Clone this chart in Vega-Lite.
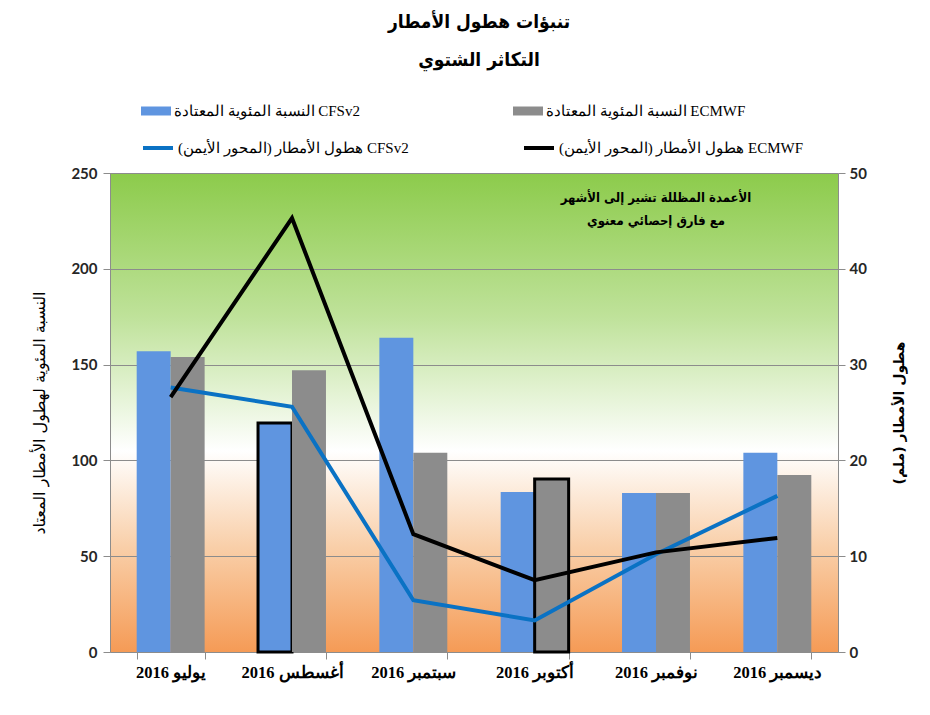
{
  "$schema": "https://vega.github.io/schema/vega-lite/v6.json",
  "width": 728,
  "height": 479,
  "autosize": {"type": "none"},
  "padding": {"left": 110, "top": 173, "right": 92, "bottom": 63},
  "background": "white",
  "title": {
    "text": ["تنبؤات هطول الأمطار", "التكاثر الشتوي"],
    "frame": "group",
    "anchor": "middle",
    "offset": 26,
    "dx": 5,
    "font": "DejaVu Sans Condensed",
    "fontSize": 19,
    "fontWeight": "bold",
    "lineHeight": 38,
    "color": "black"
  },
  "data": {
    "values": [
      {"month": "يوليو 2016", "model": "CFSv2", "pct": 157, "rain": 27.6, "sig": false, "barSeries": "النسبة المئوية المعتادة CFSv2", "lineSeries": "هطول الأمطار (المحور الأيمن)‏ CFSv2"},
      {"month": "أغسطس 2016", "model": "CFSv2", "pct": 119.5, "rain": 25.6, "sig": true, "barSeries": "النسبة المئوية المعتادة CFSv2", "lineSeries": "هطول الأمطار (المحور الأيمن)‏ CFSv2"},
      {"month": "سبتمبر 2016", "model": "CFSv2", "pct": 164, "rain": 5.4, "sig": false, "barSeries": "النسبة المئوية المعتادة CFSv2", "lineSeries": "هطول الأمطار (المحور الأيمن)‏ CFSv2"},
      {"month": "أكتوبر 2016", "model": "CFSv2", "pct": 83.5, "rain": 3.3, "sig": false, "barSeries": "النسبة المئوية المعتادة CFSv2", "lineSeries": "هطول الأمطار (المحور الأيمن)‏ CFSv2"},
      {"month": "نوفمبر 2016", "model": "CFSv2", "pct": 83, "rain": 10.2, "sig": false, "barSeries": "النسبة المئوية المعتادة CFSv2", "lineSeries": "هطول الأمطار (المحور الأيمن)‏ CFSv2"},
      {"month": "ديسمبر 2016", "model": "CFSv2", "pct": 104, "rain": 16.3, "sig": false, "barSeries": "النسبة المئوية المعتادة CFSv2", "lineSeries": "هطول الأمطار (المحور الأيمن)‏ CFSv2"},
      {"month": "يوليو 2016", "model": "ECMWF", "pct": 154, "rain": 26.6, "sig": false, "barSeries": "النسبة المئوية المعتادة ECMWF", "lineSeries": "هطول الأمطار (المحور الأيمن)‏ ECMWF"},
      {"month": "أغسطس 2016", "model": "ECMWF", "pct": 147, "rain": 45.3, "sig": false, "barSeries": "النسبة المئوية المعتادة ECMWF", "lineSeries": "هطول الأمطار (المحور الأيمن)‏ ECMWF"},
      {"month": "سبتمبر 2016", "model": "ECMWF", "pct": 104, "rain": 12.3, "sig": false, "barSeries": "النسبة المئوية المعتادة ECMWF", "lineSeries": "هطول الأمطار (المحور الأيمن)‏ ECMWF"},
      {"month": "أكتوبر 2016", "model": "ECMWF", "pct": 90.3, "rain": 7.5, "sig": true, "barSeries": "النسبة المئوية المعتادة ECMWF", "lineSeries": "هطول الأمطار (المحور الأيمن)‏ ECMWF"},
      {"month": "نوفمبر 2016", "model": "ECMWF", "pct": 83, "rain": 10.4, "sig": false, "barSeries": "النسبة المئوية المعتادة ECMWF", "lineSeries": "هطول الأمطار (المحور الأيمن)‏ ECMWF"},
      {"month": "ديسمبر 2016", "model": "ECMWF", "pct": 92.4, "rain": 11.9, "sig": false, "barSeries": "النسبة المئوية المعتادة ECMWF", "lineSeries": "هطول الأمطار (المحور الأيمن)‏ ECMWF"}
    ]
  },
  "layer": [
    {
      "layer": [
        {
          "mark": {"type": "bar"},
          "encoding": {
            "x": {
              "field": "month",
              "type": "nominal",
              "sort": ["يوليو 2016", "أغسطس 2016", "سبتمبر 2016", "أكتوبر 2016", "نوفمبر 2016", "ديسمبر 2016"],
              "scale": {"paddingInner": 0.44, "paddingOuter": 0.22},
              "title": null,
              "axis": {
                "labelAngle": 0,
                "tickBand": "extent",
                "labelFont": "Liberation Serif",
                "labelFontSize": 16.5,
                "labelFontWeight": "bold",
                "labelColor": "black",
                "labelPadding": 5,
                "labelDx": -6,
                "domainColor": "#8c8c8c",
                "tickColor": "#8c8c8c",
                "tickSize": 7,
                "grid": false
              }
            },
            "xOffset": {"field": "model", "type": "nominal", "sort": ["CFSv2", "ECMWF"]},
            "y": {
              "field": "pct",
              "type": "quantitative",
              "scale": {"domain": [0, 250], "nice": false},
              "axis": {
                "values": [0, 50, 100, 150, 200, 250],
                "grid": true,
                "gridColor": "#8c8c8c",
                "gridWidth": 1,
                "domainColor": "#8c8c8c",
                "tickColor": "#8c8c8c",
                "tickSize": 7,
                "labelFont": "Lato",
                "labelFontSize": 15,
                "labelFontWeight": "bold",
                "labelColor": "#262626",
                "labelPadding": 6,
                "title": "النسبة المئوية لهطول الأمطار المعتاد",
                "titleFont": "DejaVu Sans",
                "titleFontSize": 16,
                "titleFontWeight": "normal",
                "titleColor": "black",
                "titlePadding": 23
              }
            },
            "fill": {
              "field": "barSeries",
              "type": "nominal",
              "scale": {
                "domain": ["النسبة المئوية المعتادة CFSv2", "النسبة المئوية المعتادة ECMWF"],
                "range": ["#5f95e0", "#8c8c8c"]
              },
              "legend": {
                "orient": "none",
                "legendX": 31,
                "legendY": -77,
                "direction": "horizontal",
                "columns": 2,
                "title": null,
                "labelFont": "Liberation Serif",
                "labelFontSize": 15,
                "labelColor": "black",
                "labelLimit": 500,
                "labelOffset": 3,
                "symbolType": "M-1,-0.3H1V0.3H-1Z",
                "symbolSize": 900,
                "symbolStrokeWidth": 0,
                "symbolOpacity": 1,
                "columnPadding": 153
              }
            },
            "stroke": {"condition": {"test": "datum.sig", "value": "black"}, "value": null},
            "strokeWidth": {"condition": {"test": "datum.sig", "value": 3}, "value": 0}
          }
        },
        {
          "data": {"values": [{"note": 1}]},
          "mark": {
            "type": "text",
            "text": ["الأعمدة المظللة تشير إلى الأشهر", "مع فارق إحصائي معنوي"],
            "font": "DejaVu Sans Condensed",
            "fontSize": 13,
            "fontWeight": "bold",
            "lineHeight": 23,
            "color": "black",
            "align": "center",
            "baseline": "middle",
            "dx": 0
          },
          "encoding": {
            "x": {"datum": "نوفمبر 2016"},
            "y": {"datum": 237}
          }
        }
      ]
    },
    {
      "mark": {"type": "line", "strokeWidth": 4},
      "encoding": {
        "x": {
          "field": "month",
          "type": "nominal",
          "sort": ["يوليو 2016", "أغسطس 2016", "سبتمبر 2016", "أكتوبر 2016", "نوفمبر 2016", "ديسمبر 2016"]
        },
        "y": {
          "field": "rain",
          "type": "quantitative",
          "scale": {"domain": [0, 50], "nice": false},
          "axis": {
            "orient": "right",
            "values": [0, 10, 20, 30, 40, 50],
            "grid": false,
            "domainColor": "#8c8c8c",
            "tickColor": "#8c8c8c",
            "tickSize": 7,
            "labelFont": "Lato",
            "labelFontSize": 15,
            "labelFontWeight": "bold",
            "labelColor": "#262626",
            "labelPadding": 4,
            "title": "هطول الأمطار (ملم)",
            "titleAngle": -90,
            "titleFont": "DejaVu Sans",
            "titleFontSize": 14,
            "titleFontWeight": "bold",
            "titleColor": "black",
            "titlePadding": 40
          }
        },
        "stroke": {
          "field": "lineSeries",
          "type": "nominal",
          "scale": {
            "domain": ["هطول الأمطار (المحور الأيمن)‏ CFSv2", "هطول الأمطار (المحور الأيمن)‏ ECMWF"],
            "range": ["#0a72c4", "#000000"]
          },
          "legend": {
            "orient": "none",
            "legendX": 31,
            "legendY": -42,
            "direction": "horizontal",
            "columns": 2,
            "title": null,
            "labelFont": "Liberation Serif",
            "labelFontSize": 15,
            "labelColor": "black",
            "labelLimit": 500,
            "labelOffset": 3,
            "symbolType": "stroke",
            "symbolSize": 900,
            "symbolStrokeWidth": 4,
            "symbolOpacity": 1,
            "columnPadding": 107
          }
        }
      }
    }
  ],
  "resolve": {"scale": {"y": "independent"}},
  "config": {
    "view": {
      "stroke": null,
      "fill": {
        "gradient": "linear",
        "x1": 0, "y1": 0, "x2": 0, "y2": 1,
        "stops": [
          {"offset": 0, "color": "#8ccb4b"},
          {"offset": 0.3, "color": "#bfe29a"},
          {"offset": 0.58, "color": "#ffffff"},
          {"offset": 0.78, "color": "#f9cfa9"},
          {"offset": 1, "color": "#f59b56"}
        ]
      }
    }
  }
}
